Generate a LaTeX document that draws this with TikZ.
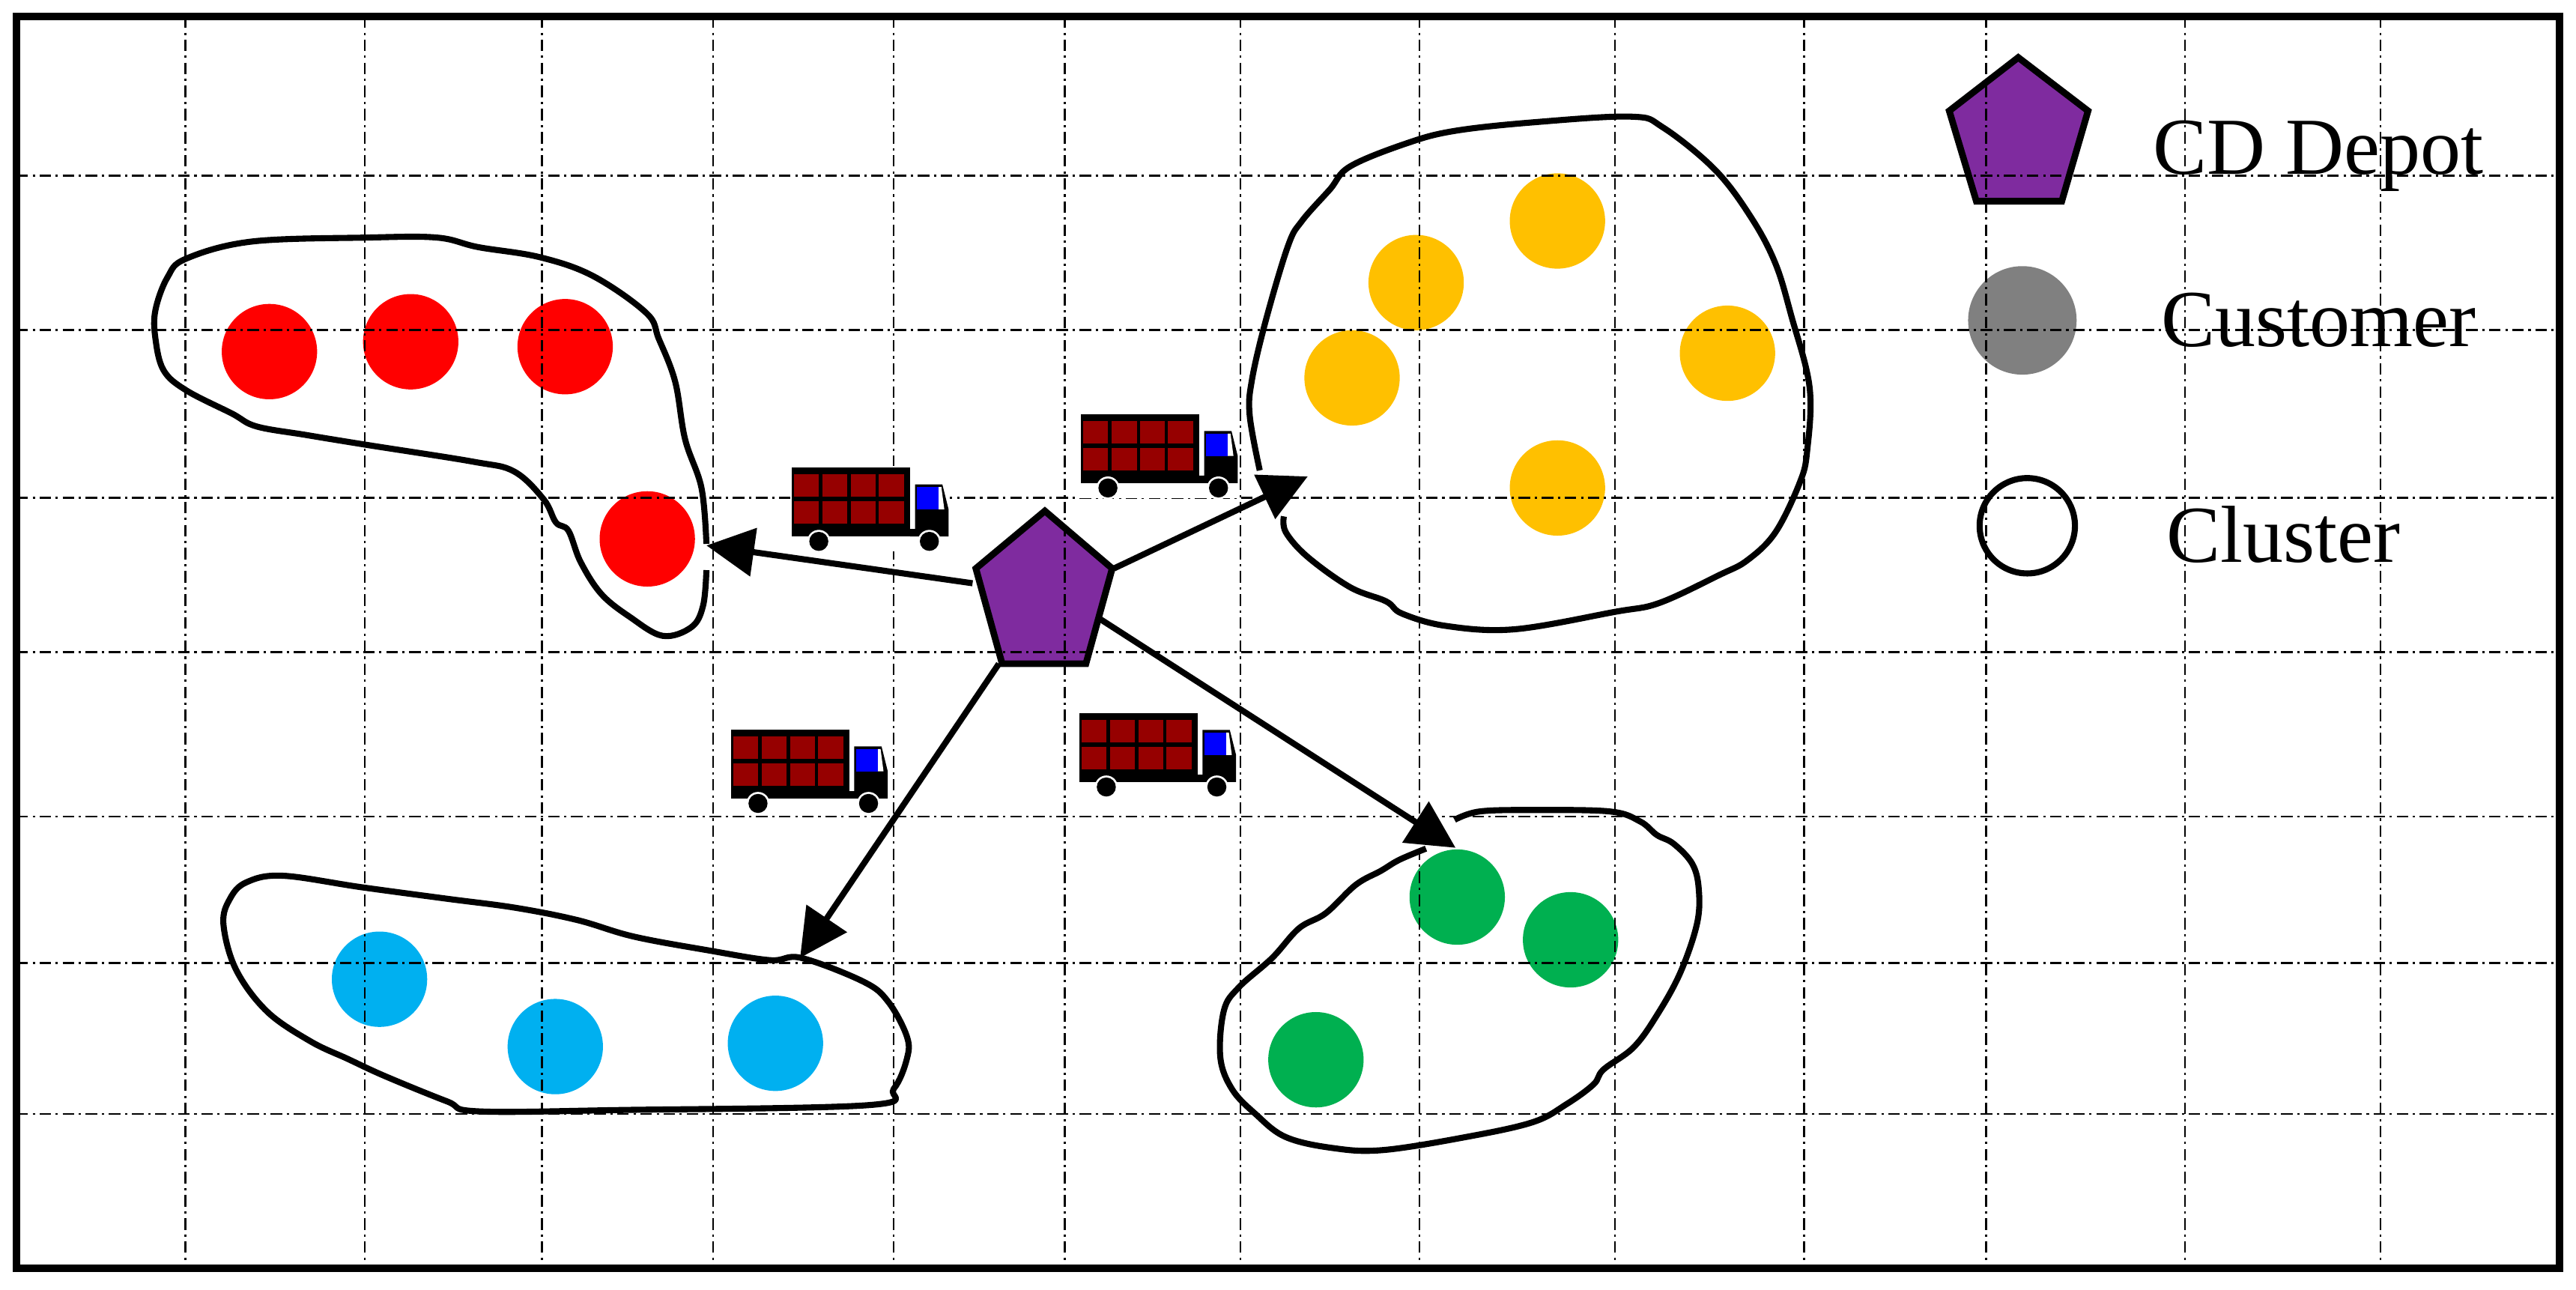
\documentclass[tikz,border=0pt]{standalone}
\usepackage{fontspec}
\setmainfont{Liberation Serif}
\usepackage{tikz}
\usetikzlibrary{arrows.meta}

\definecolor{depotpurple}{HTML}{7F2B9F}
\definecolor{custred}{HTML}{FF0000}
\definecolor{custyellow}{HTML}{FFC000}
\definecolor{custblue}{HTML}{00B0F0}
\definecolor{custgreen}{HTML}{00B050}
\definecolor{custgray}{HTML}{808080}
\definecolor{cargored}{HTML}{960000}

\tikzset{
  gridline/.style={line width=0.35pt, dash pattern=on 2pt off 0.8pt on 0.4pt off 0.8pt},
  cluster/.style={line width=1.05pt, line join=round},
  customer/.style={circle, minimum size=0.58cm, inner sep=0pt},
  route/.style={line width=1.05pt, -{Triangle[length=0.29cm, width=0.29cm]}},
  depotshape/.style={line width=1.15pt, fill=depotpurple, line join=miter},
  legendtext/.style={anchor=base west, inner sep=0pt, font=\fontsize{14}{16}\selectfont},
  truck/.pic={
    \fill[white] (-1,-1) rectangle (96,51);
    \fill[black] (0,0) rectangle (72,42);
    \fill[black] (72,37.5) -- (75,37.5) -- (75,10.3) -- (91.6,10.3) -- (95.4,25.5) -- (95.4,42) -- (72,42) -- cycle;
    \fill[white] (89.3,11.9) -- (91,11.9) -- (92.8,25.5) -- (89.3,25.5) -- cycle;
    \fill[blue] (76,11.9) rectangle (89.3,25.5);
    \fill[cargored] (1.5,4.3) rectangle (16.4,17.9);
    \fill[cargored] (18.5,4.3) rectangle (33.9,17.9);
    \fill[cargored] (35.9,4.3) rectangle (51.1,17.9);
    \fill[cargored] (52.9,4.3) rectangle (68.5,17.9);
    \fill[cargored] (1.5,20.5) rectangle (16.4,34.3);
    \fill[cargored] (18.5,20.5) rectangle (33.9,34.3);
    \fill[cargored] (35.9,20.5) rectangle (51.1,34.3);
    \fill[cargored] (52.9,20.5) rectangle (68.5,34.3);
    \fill[white] (16.4,45) circle (0.07cm);
    \fill[white] (83.7,45) circle (0.07cm);
    \fill[black] (16.4,45) circle (0.058cm);
    \fill[black] (83.7,45) circle (0.058cm);
  }
}

\begin{document}
\begin{tikzpicture}[x=0.01cm, y=-0.01cm]
  \useasboundingbox (0,0) rectangle (1568,785);

  % Clusters
  \draw[cluster] plot[smooth, tension=0.6] coordinates {(430,347) (428,368.5) (421,381.6) (403.4,387) (383.4,375.5) (366,361.5) (353.4,342) (346,323) (338.4,318) (331,304) (313,287) (288,281) (223.4,270.8) (186,264.7) (156,259.5) (141,251.6) (113.4,237.6) (99.6,225.4) (94.6,206) (94.6,188.8) (102,168.7) (113.4,157.4) (153.4,147) (223.4,144.6) (266,144.6) (291,150.4) (328.4,156.5) (361,168) (393.4,190.5) (401,206.2) (411,232.4) (417,267.3) (427,297) (430,331)};
  \draw[cluster] plot[smooth, tension=0.6] coordinates {(781.5,314.3) (782.7,324) (796,339) (821.8,357.4) (843.7,366) (853.5,373.5) (880.4,381) (922,383) (983,372.4) (1010,367) (1046.5,350) (1063.6,341) (1080.7,324) (1095.4,294) (1100,274.5) (1101.5,235.8) (1090.5,192.7) (1080.7,160.4) (1066,132.5) (1044,103.4) (1012.3,77.6) (992.8,71) (934,74.4) (885.3,79.7) (856,87.3) (821.8,101.3) (809.5,115.3) (792.4,134.6) (784,149.7) (770.5,195) (762,231.5) (760.7,253) (766.8,286.3)};
  \draw[cluster] plot[smooth cycle, tension=0.6] coordinates {(487.6,583) (525.4,597.4) (540.5,609.5) (552,630.8) (552,644.5) (544,662.7) (529,672.6) (378,675.6) (291,676.4) (272,670.3) (234.4,655) (211.7,644.5) (189,633.8) (162.5,615.6) (143.6,590) (136,562.4) (140,547) (150,537) (172,533) (220,540) (272,547) (313.7,552.5) (351.5,560) (385.6,570) (431,578.4) (468.7,584.4)};
  \draw[cluster] plot[smooth, tension=0.6] coordinates {(868,516.5) (851.8,523.3) (840.6,530) (825.3,538.5) (807,555.8) (790.7,565) (774.4,583) (754,601) (745,615) (742.8,643.5) (750,663) (764.2,678) (782.5,692) (811,698.7) (841.6,700) (892.5,692) (933,683) (953.6,672) (970,660) (976,651) (994.3,637.5) (1008.5,618) (1022.8,592) (1033,562) (1034,540.7) (1030,525.6) (1018.7,513.5) (1008.5,508.2) (998.4,500) (980,493.9) (933,493) (900.6,493.9) (885.4,499)};

  % Customers
  \node[customer, fill=custred] (red1) at (164,214) {};
  \node[customer, fill=custred] (red2) at (250,208) {};
  \node[customer, fill=custred] (red3) at (344,211) {};
  \node[customer, fill=custred] (red4) at (394,328) {};
  \node[customer, fill=custyellow] (yellow1) at (862,172) {};
  \node[customer, fill=custyellow] (yellow2) at (948,134.5) {};
  \node[customer, fill=custyellow] (yellow3) at (823,230) {};
  \node[customer, fill=custyellow] (yellow4) at (1051.5,215) {};
  \node[customer, fill=custyellow] (yellow5) at (948,297) {};
  \node[customer, fill=custblue] (blue1) at (231,596) {};
  \node[customer, fill=custblue] (blue2) at (338,637) {};
  \node[customer, fill=custblue] (blue3) at (472,635) {};
  \node[customer, fill=custgreen] (green1) at (887,546) {};
  \node[customer, fill=custgreen] (green2) at (956,572) {};
  \node[customer, fill=custgreen] (green3) at (801,645) {};

  % Depot and routes
  \coordinate (depotleft) at (592,355);
  \coordinate (depotright) at (678,346);
  \coordinate (depotlow) at (608,404);
  \coordinate (depotside) at (670,377);
  \coordinate (redstop) at (430,332);
  \coordinate (yellowstop) at (796,290);
  \coordinate (bluestop) at (487,583);
  \coordinate (greenstop) at (886,516);
  \draw[route] (depotleft) -- (redstop);
  \draw[route] (depotright) -- (yellowstop);
  \draw[route] (depotlow) -- (bluestop);
  \draw[route] (depotside) -- (greenstop);
  \draw[depotshape] (636,311) -- (677,346) -- (661,404) -- (610,404) -- (594,346) -- cycle;

  % Legend
  \draw[depotshape] (1228.5,35) -- (1271,67.5) -- (1255,122.5) -- (1203,122.5) -- (1186.5,67.5) -- cycle;
  \node[customer, minimum size=0.66cm, fill=custgray] (legendcustomer) at (1231,195) {};
  \node[customer, draw, line width=1.05pt] (legendcluster) at (1234,320) {};
  \node[legendtext] (depotlabel) at (1310,106) {CD Depot};
  \node[legendtext] (customerlabel) at (1315,211) {Customer};
  \node[legendtext] (clusterlabel) at (1318,342) {Cluster};

  % Grid
  \draw[gridline] (113,10) -- (113,772) (222,10) -- (222,772) (330,10) -- (330,772) (434,10) -- (434,772);
  \draw[gridline] (544,10) -- (544,772) (648,10) -- (648,772) (755,10) -- (755,772) (864,10) -- (864,772);
  \draw[gridline] (983,10) -- (983,772) (1098,10) -- (1098,772) (1209,10) -- (1209,772) (1330,10) -- (1330,772) (1449,10) -- (1449,772);
  \draw[gridline] (10,107) -- (1558,107) (10,201) -- (1558,201) (10,303) -- (1558,303) (10,397) -- (1558,397);
  \draw[gridline] (10,497) -- (1558,497) (10,586) -- (1558,586) (10,678) -- (1558,678);

  % Trucks
  \pic (truckred) at (482,284.5) {truck};
  \pic (truckyellow) at (658,252) {truck};
  \pic (truckblue) at (445,444) {truck};
  \pic (truckgreen) at (657,434) {truck};

  % Frame
  \draw[line width=0.045cm] (10,10) rectangle (1558,772);
\end{tikzpicture}
\end{document}
